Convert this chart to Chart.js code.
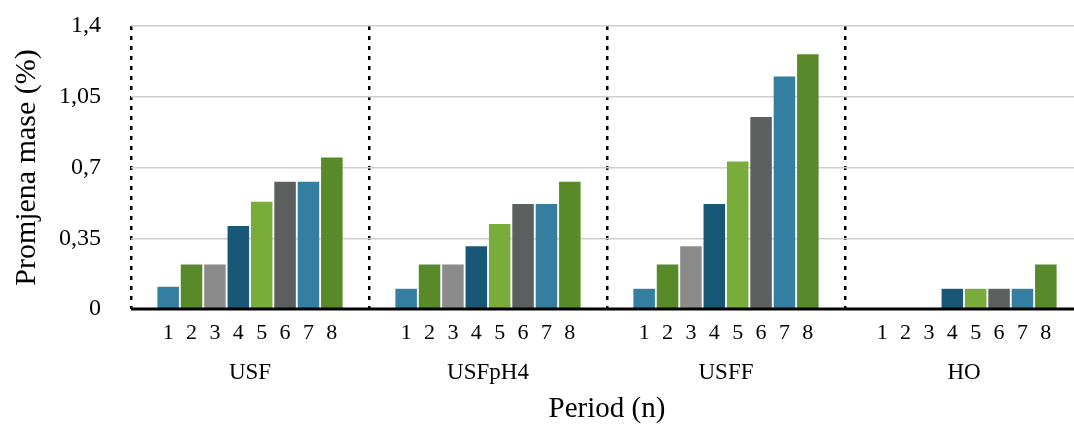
<!DOCTYPE html>
<html>
<head>
<meta charset="utf-8">
<script src="https://cdn.jsdelivr.net/npm/chart.js@4/dist/chart.umd.min.js"></script>
<style>
  html, body { margin: 0; padding: 0; background: #fff; overflow: hidden; }
  #wrap { width: 1083px; height: 425px; }
</style>
</head>
<body>
<div id="wrap"><canvas id="chart" width="1083" height="425"></canvas></div>
<script>
const groups = ['USF', 'USFpH4', 'USFF', 'HO'];
const periods = ['1', '2', '3', '4', '5', '6', '7', '8'];

// values per period, in group order USF, USFpH4, USFF, HO
const period1 = [0.11, 0.10, 0.10, 0];
const period2 = [0.22, 0.22, 0.22, 0];
const period3 = [0.22, 0.22, 0.31, 0];
const period4 = [0.41, 0.31, 0.52, 0.10];
const period5 = [0.53, 0.42, 0.73, 0.10];
const period6 = [0.63, 0.52, 0.95, 0.10];
const period7 = [0.63, 0.52, 1.15, 0.10];
const period8 = [0.75, 0.63, 1.26, 0.22];

const yTicks = [0, 0.35, 0.7, 1.05, 1.4];

const seriesValues = [period1, period2, period3, period4, period5, period6, period7, period8];
const colors = ['#347ea2', '#588a29', '#8b8b8b', '#195776', '#79ac3b', '#5b5f5e', '#347ea2', '#588a29'];

const serif = "'Liberation Serif', 'Times New Roman', serif";
Chart.defaults.color = '#000';
Chart.defaults.font.family = serif;

// period numbers under each bar + solid baseline
const periodLabels = {
    id: 'periodLabels',
    afterDatasetsDraw(chart) {
        const ctx = chart.ctx;
        const area = chart.chartArea;
        const y0 = chart.scales.y.getPixelForValue(0);
        ctx.save();
        ctx.strokeStyle = '#000';
        ctx.lineWidth = 3;
        ctx.beginPath();
        ctx.moveTo(area.left, y0);
        ctx.lineTo(area.right, y0);
        ctx.stroke();

        ctx.font = '22px ' + serif;
        ctx.fillStyle = '#000';
        ctx.textAlign = 'center';
        ctx.textBaseline = 'middle';
        chart.data.datasets.forEach((ds, i) => {
            chart.getDatasetMeta(i).data.forEach(bar => {
                ctx.fillText(ds.label, bar.x, y0 + 24);
            });
        });
        ctx.restore();
    }
};

new Chart(document.getElementById('chart'), {
    type: 'bar',
    data: {
        labels: groups,
        datasets: seriesValues.map((vals, i) => ({
            label: periods[i],
            data: vals,
            backgroundColor: colors[i],
            borderWidth: 0
        }))
    },
    options: {
        responsive: false,
        animation: false,
        devicePixelRatio: 1,
        layout: { padding: { top: 26, left: 0, right: 0, bottom: 0 } },
        plugins: {
            legend: { display: false },
            tooltip: { enabled: false }
        },
        datasets: {
            bar: { categoryPercentage: 0.786, barPercentage: 0.92 }
        },
        scales: {
            x: {
                offset: true,
                grid: {
                    display: true,
                    offset: true,
                    drawTicks: false,
                    lineWidth: 2.5,
                    color: c => (c.index === groups.length ? 'rgba(0,0,0,0)' : '#000')
                },
                border: { display: false, dash: [4, 6] },
                ticks: { font: { size: 23 }, padding: 50 },
                title: {
                    display: true,
                    text: 'Period (n)',
                    font: { size: 29, lineHeight: 1 },
                    padding: { top: 0, bottom: 1 }
                },
                afterFit: s => { s.height = 116; }
            },
            y: {
                min: 0,
                max: 1.4,
                afterBuildTicks: s => { s.ticks = yTicks.map(v => ({ value: v })); },
                grid: {
                    drawTicks: false,
                    color: '#cfcfcf',
                    lineWidth: 1.5
                },
                border: { display: false },
                ticks: {
                    font: { size: 24 },
                    padding: 30,
                    callback: v => String(Math.round(v * 100) / 100).replace('.', ',')
                },
                title: {
                    display: true,
                    text: 'Promjena mase (%)',
                    font: { size: 30, lineHeight: 1 },
                    padding: { top: 12, bottom: 0 }
                },
                afterFit: s => {
                    s.width = 131;
                    s.paddingTop = 14;
                    s.paddingBottom = 14;
                }
            }
        }
    },
    plugins: [periodLabels]
});
</script>
</body>
</html>
